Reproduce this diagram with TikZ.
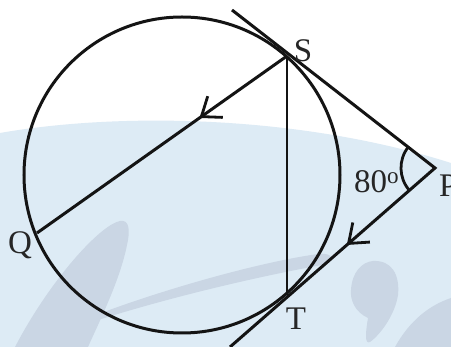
\documentclass[tikz,border=0pt]{standalone}
\usepackage{fontspec}
\setmainfont{Liberation Serif}
\usetikzlibrary{arrows.meta,decorations.markings}
\definecolor{bgblue}{HTML}{DDEBF5}
\definecolor{wmblue}{HTML}{CAD6E4}
\begin{document}
\begin{tikzpicture}[x=1pt,y=-1pt,
  geo/.style={line width=3pt, draw=black!92, line join=miter},
  chord/.style={line width=2.2pt, draw=black!92},
  lbl/.style={font=\fontsize{33}{33}\selectfont, inner sep=0pt, anchor=base, text=black!85},
  midarrow/.style={postaction={decorate}, decoration={markings,
     mark=at position #1 with {\arrow{Straight Barb[length=17pt,width=26pt,line width=2.8pt]}}}}]
\useasboundingbox (0,0) rectangle (451,347);
% background
\fill[white] (0,0) rectangle (451,347);
\fill[bgblue] (0,133) .. controls (120,112) and (300,115) .. (451,163) -- (451,347) -- (0,347) -- cycle;
\fill[wmblue] (15,347) .. controls (50,280) and (100,225) .. (120,221) .. controls (130,219) and (130,232) .. (127,245) .. controls (120,280) and (100,320) .. (88,347) -- cycle;
\fill[wmblue] (88,318) .. controls (160,290) and (260,262) .. (318,254) .. controls (335,252) and (335,262) .. (322,265) .. controls (250,278) and (160,300) .. (92,322) -- cycle;
\fill[wmblue] (373,261) .. controls (392,260) and (400,275) .. (398,295) .. controls (395,315) and (380,335) .. (370,342) .. controls (364,345) and (366,330) .. (368,318) .. controls (355,312) and (350,300) .. (351,290) .. controls (352,272) and (362,262) .. (373,261) -- cycle;
\fill[wmblue] (395,347) .. controls (410,320) and (430,305) .. (451,298) -- (451,347) -- cycle;
% points
\coordinate (O) at (182,175);
\coordinate (S) at (287,56);
\coordinate (T) at (287,295);
\coordinate (Q) at (37,233);
\coordinate (P) at (435,168);
\coordinate (A) at (232,10);
\coordinate (B) at (230,347);
% circle
\draw[geo] (O) circle[radius=158];
% tangents
\draw[geo, midarrow=0.707] (A) -- (P) -- (B);
% chords
\draw[chord] (S) -- (T);
\draw[geo, midarrow=0.35] (S) -- (Q);
% angle
\draw[line width=2.8pt, draw=black!92] ([shift={(142.1:34pt)}]P) arc[start angle=142.1, end angle=221.1, radius=34pt];
% labels
\node[lbl] (ls) at (303,62) {S};
\node[lbl] (lt) at (296,330) {T};
\node[lbl] (lq) at (20,254) {Q};
\node[lbl, anchor=base west] (la) at (354,193) {80\textsuperscript{o}};
\node[lbl, anchor=base west] (lp) at (439,197) {P};
\end{tikzpicture}
\end{document}
